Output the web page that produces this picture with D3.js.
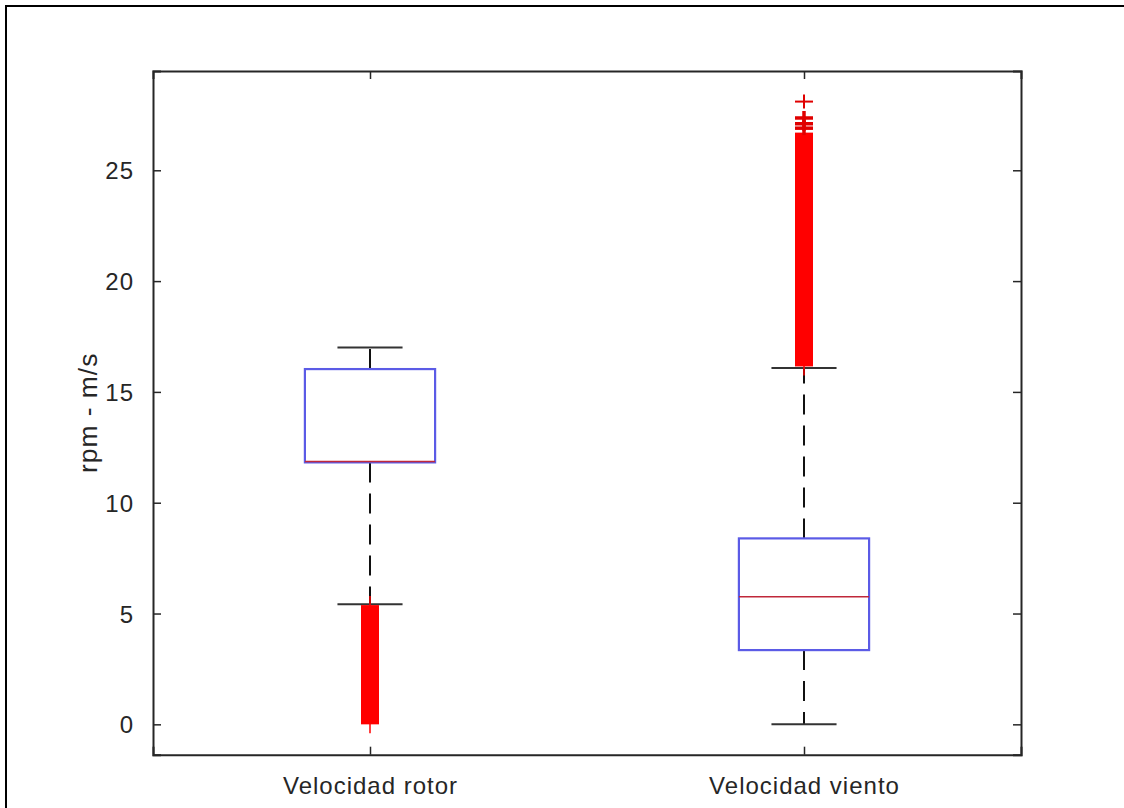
<!DOCTYPE html>
<html>
<head>
<meta charset="utf-8">
<script src="https://cdn.jsdelivr.net/npm/d3@7"></script>
<style>
  html, body { margin: 0; padding: 0; background: #fff; overflow: hidden; }
  svg { display: block; }
  text { font-family: "Liberation Sans", Arial, Helvetica, sans-serif; fill: #262626; }
</style>
</head>
<body>
<svg id="chart" width="1124" height="808"></svg>
<script>
// Box-plot statistics for each variable
const categories   = ["Velocidad rotor", "Velocidad viento"];
const q1           = [11.82, 3.35];
const medians      = [11.86, 5.76];
const q3           = [16.03, 8.39];
const whiskerLow   = [5.42, 0.0];
const whiskerHigh  = [17.0, 16.08];
// Ranges where outlier markers overlap into a solid band
const denseOutlierLow  = [0.0, 16.15];
const denseOutlierHigh = [5.38, 26.7];
// Individually visible outliers
const sparseOutliers = [[], [26.9, 27.1, 27.36, 28.1]];
const yTicks = [0, 5, 10, 15, 20, 25];

const svg = d3.select("#chart");
const W = 1124, H = 808;
const plotLeft = 153, plotRight = 1021, plotTop = 71, plotBottom = 754.7;

// Figure frame
svg.append("rect")
  .attr("x", 6).attr("y", 6).attr("width", W + 20).attr("height", H + 20)
  .attr("fill", "#fff").attr("stroke", "#000").attr("stroke-width", 2);

const x = d3.scaleLinear().domain([0.5, 2.5]).range([plotLeft, plotRight]);
const y = d3.scaleLinear().domain([-1.37, 29.48]).range([plotBottom, plotTop]);

const boxHalf = 0.15, capHalf = 0.075, markerHalf = 9;
const pos = categories.map((c, i) => i + 1);

// Axes (ticks pointing inward, mirrored on top/right)
const axisColor = "#262626";
const gL = svg.append("g").attr("transform", `translate(${plotLeft},0)`)
  .call(d3.axisLeft(y).tickValues(yTicks).tickSize(-8).tickPadding(19).tickFormat(d3.format("d")));
const gR = svg.append("g").attr("transform", `translate(${plotRight},0)`)
  .call(d3.axisRight(y).tickValues(yTicks).tickSize(-8).tickFormat(""));
const gB = svg.append("g").attr("transform", `translate(0,${plotBottom})`)
  .call(d3.axisBottom(x).tickValues(pos).tickSize(-8).tickPadding(18).tickFormat((d, i) => categories[i]));
const gT = svg.append("g").attr("transform", `translate(0,${plotTop})`)
  .call(d3.axisTop(x).tickValues(pos).tickSize(-8).tickFormat(""));
[gL, gR, gB, gT].forEach(g => {
  g.select(".domain").attr("stroke", axisColor).attr("stroke-width", 2);
  g.selectAll(".tick line").attr("stroke", axisColor).attr("stroke-width", 1.5);
  g.selectAll(".tick text")
    .attr("fill", axisColor)
    .style("font-size", "24px")
    .style("letter-spacing", "1px");
});
gL.selectAll(".tick text").attr("dy", "0.36em");
gB.selectAll(".tick text").attr("dy", "0.9em");

// Y-axis label
svg.append("text")
  .attr("transform", `translate(97,${(plotTop + plotBottom) / 2}) rotate(-90)`)
  .attr("text-anchor", "middle")
  .style("font-size", "26.4px")
  .style("letter-spacing", "1px")
  .text("rpm - m/s");

const plot = svg.append("g");

pos.forEach((p, i) => {
  const cx = x(p);
  // Whiskers (dashed)
  plot.append("line")
    .attr("x1", cx).attr("x2", cx).attr("y1", y(q3[i])).attr("y2", y(whiskerHigh[i]))
    .attr("stroke", "#111").attr("stroke-width", 2).attr("stroke-dasharray", "20 11");
  plot.append("line")
    .attr("x1", cx).attr("x2", cx).attr("y1", y(q1[i])).attr("y2", y(whiskerLow[i]))
    .attr("stroke", "#111").attr("stroke-width", 2).attr("stroke-dasharray", "20 11");
  // Whisker caps
  [whiskerLow[i], whiskerHigh[i]].forEach(v => {
    plot.append("line")
      .attr("x1", x(p - capHalf)).attr("x2", x(p + capHalf))
      .attr("y1", y(v)).attr("y2", y(v))
      .attr("stroke", "#333").attr("stroke-width", 2);
  });
  // Box
  plot.append("rect")
    .attr("x", x(p - boxHalf)).attr("width", x(p + boxHalf) - x(p - boxHalf))
    .attr("y", y(q3[i])).attr("height", y(q1[i]) - y(q3[i]))
    .attr("fill", "none").attr("stroke", "#5b5be6").attr("stroke-width", 2.2);
  // Median
  plot.append("line")
    .attr("x1", x(p - boxHalf)).attr("x2", x(p + boxHalf))
    .attr("y1", y(medians[i])).attr("y2", y(medians[i]))
    .attr("stroke", "#c0283a").attr("stroke-width", 1.6);

  // Dense outlier band (overlapping "+" markers)
  plot.append("rect")
    .attr("x", cx - markerHalf).attr("width", markerHalf * 2)
    .attr("y", y(denseOutlierHigh[i])).attr("height", y(denseOutlierLow[i]) - y(denseOutlierHigh[i]))
    .attr("fill", "#ff0000");
  plot.append("line")
    .attr("x1", cx).attr("x2", cx)
    .attr("y1", y(denseOutlierHigh[i]) - markerHalf).attr("y2", y(denseOutlierLow[i]) + markerHalf)
    .attr("stroke", "#ff0000").attr("stroke-width", 1.5);

  // Individual outlier markers
  sparseOutliers[i].forEach((v, k) => {
    const last = k === sparseOutliers[i].length - 1;
    const g = plot.append("g").attr("stroke", "#e00000").attr("stroke-width", last ? 2 : 3.5);
    g.append("line").attr("x1", cx - markerHalf).attr("x2", cx + markerHalf)
      .attr("y1", y(v)).attr("y2", y(v));
    g.append("line").attr("x1", cx).attr("x2", cx)
      .attr("y1", y(v) - markerHalf + 2).attr("y2", y(v) + markerHalf - 2);
  });
});
</script>
</body>
</html>
